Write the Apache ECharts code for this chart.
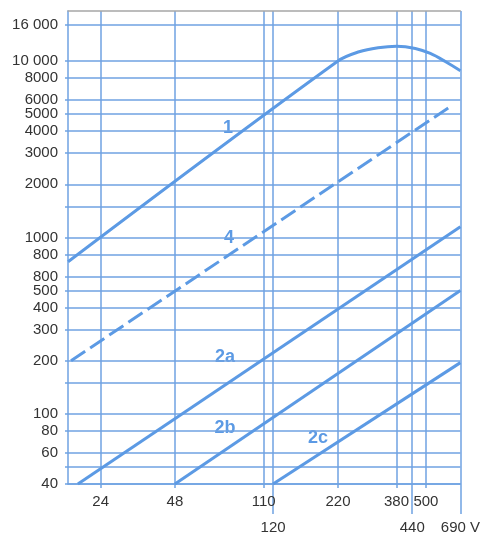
<!DOCTYPE html>
<html><head><meta charset="utf-8">
<script src="https://cdn.jsdelivr.net/npm/echarts@6/dist/echarts.min.js"></script>
<style>html,body{margin:0;padding:0;background:#fff}#c{width:483px;height:535px}</style>
</head><body><div id="c"></div>
<script>
// x axis (V, log)
const xMin = 17.69, xMax = 690;
const xGridValues = [24, 48, 110, 120, 220, 380, 440, 500, 690];
const xLabelsRow1 = [24, 48, 110, 220, 380, 500];
const xLabelsRow2 = [120, 440, 690];
const xLabelsRow2Text = ['120', '440', '690 V'];
// y axis (log)
const yMin = 40, yMax = 19200;
const yGridValues = [40, 50, 60, 80, 100, 150, 200, 300, 400, 500, 600, 800, 1000, 1500, 2000, 3000, 4000, 5000, 6000, 8000, 10000, 16000];
const yLabelValues = [40, 60, 80, 100, 200, 300, 400, 500, 600, 800, 1000, 2000, 3000, 4000, 5000, 6000, 8000, 10000, 16000];
const yLabelTexts = ['40', '60', '80', '100', '200', '300', '400', '500', '800', '800', '1000', '2000', '3000', '4000', '5000', '6000', '8000', '10 000', '16 000'];

// curves
const line1X = [17.7, 220, 268, 320, 380, 453, 521, 599, 690];
const line1Y = [728, 10000, 11280, 11890, 12130, 11780, 11030, 9940, 8810];
const line4X = [18.2, 618];
const line4Y = [200, 5430];
const line2aX = [19.4, 690];
const line2aY = [40, 1150];
const line2bX = [48, 690];
const line2bY = [40, 500];
const line2cX = [120, 690];
const line2cY = [40, 195];

const BLUE = '#6fa2e2';
const LINE = '#5c9ae4';
const FONT = "'Liberation Sans', Arial, sans-serif";

function pairs(xs, ys) { return xs.map((x, i) => [x, ys[i]]); }
function lookup(vals, texts, v) {
  let best = 0, bd = Infinity;
  vals.forEach((u, i) => { const d = Math.abs(Math.log(u / v)); if (d < bd) { bd = d; best = i; } });
  return texts[best];
}

const chart = echarts.init(document.getElementById('c'), null, {renderer: 'canvas'});
const lineSeries = (data, extra) => Object.assign({
  type: 'line', data: data, showSymbol: false, symbol: 'none', silent: true,
  lineStyle: {color: LINE, width: 3}, xAxisIndex: 0, yAxisIndex: 0, z: 5
}, extra || {});

chart.setOption({
  animation: false,
  backgroundColor: '#fff',
  grid: {left: 68, right: 19, top: 11, bottom: 50, containLabel: false},
  xAxis: [
    {
      type: 'log', logBase: 10, min: xMin, max: xMax, position: 'bottom',
      axisLine: {show: true, lineStyle: {color: BLUE, width: 1.5}},
      axisTick: {show: true, customValues: xGridValues, length: 4, lineStyle: {color: BLUE, width: 1.5}},
      axisLabel: {show: true, customValues: xLabelsRow1, margin: 10, color: '#333', fontSize: 15, fontFamily: FONT,
        formatter: v => String(Math.round(v))},
      splitLine: {show: true, lineStyle: {color: BLUE, width: 1.5}},
      minorTick: {show: false}, minorSplitLine: {show: false}
    },
    {
      type: 'log', logBase: 10, min: xMin, max: xMax, position: 'bottom',
      axisLine: {show: false},
      axisTick: {show: true, customValues: xLabelsRow2, length: 30, lineStyle: {color: BLUE, width: 1.5}},
      axisLabel: {show: true, customValues: xLabelsRow2, margin: 36, color: '#333', fontSize: 15, fontFamily: FONT,
        formatter: v => lookup(xLabelsRow2, xLabelsRow2Text, v)},
      splitLine: {show: false}
    },
    {
      type: 'log', logBase: 10, min: xMin, max: xMax, position: 'top',
      axisLine: {show: true, lineStyle: {color: '#a6a6a6', width: 1.5}},
      axisTick: {show: false}, axisLabel: {show: false}, splitLine: {show: false}
    }
  ],
  yAxis: [{
    type: 'log', logBase: 10, min: yMin, max: yMax,
    axisLine: {show: true, lineStyle: {color: BLUE, width: 1.5}},
    axisTick: {show: true, customValues: yGridValues, length: 3, lineStyle: {color: BLUE, width: 1.5}},
    axisLabel: {show: true, customValues: yLabelValues, margin: 10, color: '#333', fontSize: 15, fontFamily: FONT,
      formatter: v => lookup(yLabelValues, yLabelTexts, v)},
    splitLine: {show: true, lineStyle: {color: BLUE, width: 1.5}},
    minorTick: {show: false}, minorSplitLine: {show: false}
  }],
  series: [
    lineSeries(pairs(line1X, line1Y), {smooth: 0.35}),
    lineSeries(pairs(line4X, line4Y), {lineStyle: {color: LINE, width: 3, type: [17, 6]}}),
    lineSeries(pairs(line2aX, line2aY)),
    lineSeries(pairs(line2bX, line2bY)),
    lineSeries(pairs(line2cX, line2cY))
  ],
  graphic: [
    {type: 'text', x: 228, y: 128, style: {text: '1', fill: LINE, font: "bold 18px " + FONT, textAlign: 'center', textVerticalAlign: 'middle'}},
    {type: 'text', x: 229, y: 238, style: {text: '4', fill: LINE, font: "bold 18px " + FONT, textAlign: 'center', textVerticalAlign: 'middle'}},
    {type: 'text', x: 225, y: 357, style: {text: '2a', fill: LINE, font: "bold 18px " + FONT, textAlign: 'center', textVerticalAlign: 'middle'}},
    {type: 'text', x: 225, y: 428, style: {text: '2b', fill: LINE, font: "bold 18px " + FONT, textAlign: 'center', textVerticalAlign: 'middle'}},
    {type: 'text', x: 318, y: 438, style: {text: '2c', fill: LINE, font: "bold 18px " + FONT, textAlign: 'center', textVerticalAlign: 'middle'}}
  ]
});
</script>
</body></html>
